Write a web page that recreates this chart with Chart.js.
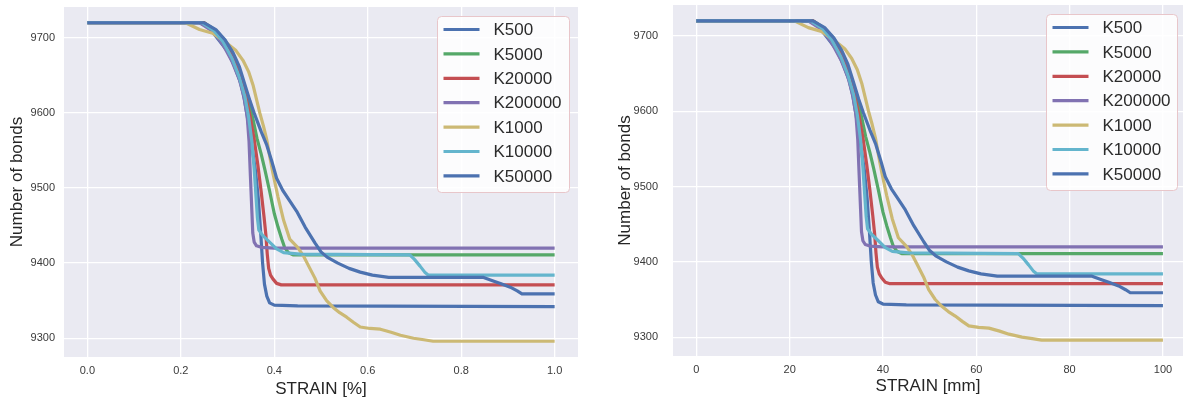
<!DOCTYPE html>
<html>
<head>
<meta charset="utf-8">
<script src="https://cdn.jsdelivr.net/npm/chart.js@4.4.1/dist/chart.umd.min.js"></script>
<style>
  html, body { margin: 0; padding: 0; background: #ffffff; }
  #wrap { position: relative; width: 1183px; height: 398px; overflow: hidden; }
  canvas { position: absolute; top: 0; }
  #leftChart { left: 0; }
  #rightChart { left: 590px; }
</style>
</head>
<body>
<div id="wrap">
  <canvas id="leftChart" width="590" height="398"></canvas>
  <canvas id="rightChart" width="593" height="398"></canvas>
</div>
<script>
// ---- data ----
const seriesLabels = ['K500', 'K5000', 'K20000', 'K200000', 'K1000', 'K10000', 'K50000'];

// strain as a fraction of the full run (the right plot shows the same runs in mm)
const k500Strain = [0, 0.24, 0.26, 0.28, 0.30, 0.315, 0.328, 0.336, 0.343, 0.352, 0.36, 0.366, 0.371, 0.375, 0.379, 0.384, 0.39, 0.40, 0.45, 1.0];
const k500Bonds = [9720, 9720, 9714, 9698, 9682, 9662, 9640, 9618, 9592, 9556, 9522, 9485, 9440, 9400, 9372, 9356, 9347, 9344, 9343, 9342];

const k5000Strain = [0, 0.25, 0.275, 0.295, 0.31, 0.325, 0.337, 0.347, 0.355, 0.363, 0.372, 0.38, 0.39, 0.40, 0.408, 0.416, 0.422, 0.43, 0.44, 1.0];
const k5000Bonds = [9720, 9720, 9710, 9696, 9680, 9658, 9632, 9610, 9590, 9566, 9545, 9524, 9496, 9466, 9448, 9432, 9421, 9414, 9411, 9411];

const k20000Strain = [0, 0.25, 0.275, 0.295, 0.312, 0.326, 0.338, 0.348, 0.357, 0.365, 0.372, 0.378, 0.382, 0.385, 0.388, 0.392, 0.397, 0.405, 0.415, 1.0];
const k20000Bonds = [9720, 9720, 9709, 9693, 9674, 9651, 9624, 9596, 9565, 9530, 9495, 9462, 9438, 9412, 9393, 9384, 9379, 9373, 9371, 9371];

const k200000Strain = [0, 0.24, 0.27, 0.29, 0.31, 0.325, 0.335, 0.342, 0.346, 0.349, 0.352, 0.354, 0.357, 0.362, 0.372, 0.4, 1.0];
const k200000Bonds = [9720, 9720, 9708, 9691, 9668, 9645, 9622, 9596, 9562, 9515, 9470, 9440, 9428, 9423, 9421, 9420, 9420];

const k1000Strain = [0, 0.21, 0.24, 0.268, 0.298, 0.318, 0.333, 0.345, 0.355, 0.362, 0.369, 0.377, 0.384, 0.39, 0.397, 0.408, 0.42, 0.433, 0.45, 0.462, 0.472, 0.487, 0.498, 0.512, 0.526, 0.54, 0.555, 0.57, 0.584, 0.605, 0.627, 0.65, 0.67, 0.698, 0.72, 0.74, 1.0];
const k1000Bonds = [9720, 9720, 9711, 9706, 9693, 9683, 9670, 9655, 9636, 9618, 9600, 9582, 9564, 9543, 9520, 9488, 9457, 9432, 9421, 9410, 9398, 9380, 9363, 9350, 9341, 9334, 9328, 9321, 9315, 9313, 9312, 9308, 9304, 9300, 9298, 9296, 9296];

const k10000Strain = [0, 0.245, 0.27, 0.29, 0.31, 0.325, 0.337, 0.345, 0.352, 0.357, 0.361, 0.364, 0.367, 0.375, 0.39, 0.405, 0.42, 0.455, 0.69, 0.70, 0.712, 0.722, 0.73, 1.0];
const k10000Bonds = [9720, 9720, 9710, 9695, 9672, 9648, 9622, 9595, 9562, 9525, 9488, 9460, 9444, 9437, 9428, 9419, 9414, 9412, 9411, 9405, 9396, 9388, 9384, 9384];

const k50000Strain = [0, 0.25, 0.275, 0.295, 0.312, 0.325, 0.337, 0.348, 0.358, 0.372, 0.384, 0.395, 0.405, 0.418, 0.432, 0.448, 0.466, 0.487, 0.50, 0.513, 0.536, 0.56, 0.584, 0.61, 0.645, 0.848, 0.87, 0.884, 0.905, 0.92, 0.93, 1.0];
const k50000Bonds = [9720, 9720, 9711, 9697, 9680, 9662, 9638, 9616, 9598, 9575, 9557, 9535, 9513, 9497, 9484, 9469, 9448, 9427, 9415, 9408, 9400, 9393, 9388, 9384, 9381, 9381, 9376, 9373, 9368, 9363, 9359, 9359];

const seriesStrain = [k500Strain, k5000Strain, k20000Strain, k200000Strain, k1000Strain, k10000Strain, k50000Strain];
const seriesBonds = [k500Bonds, k5000Bonds, k20000Bonds, k200000Bonds, k1000Bonds, k10000Bonds, k50000Bonds];

// tick values and labels
const xTickValues = [0, 0.2, 0.4, 0.6, 0.8, 1.0];
const xTickLabelsPct = ['0.0', '0.2', '0.4', '0.6', '0.8', '1.0'];
const xTickLabelsMm = ['0', '20', '40', '60', '80', '100'];
const yTickValues = [9300, 9400, 9500, 9600, 9700];
const yTickLabels = ['9300', '9400', '9500', '9600', '9700'];

// seaborn "deep" palette, cycling back to blue for the 7th line
const seriesColors = ['#4C72B0', '#55A868', '#C44E52', '#8172B2', '#CCB974', '#64B5CD', '#4C72B0'];

const FONT = '"Liberation Sans", Arial, sans-serif';

// grey panel behind the grid
const panelBackground = {
    id: 'panelBackground',
    beforeDraw(chart) {
        const { ctx, chartArea } = chart;
        ctx.save();
        ctx.fillStyle = '#EAEAF2';
        ctx.fillRect(chartArea.left, chartArea.top, chartArea.right - chartArea.left, chartArea.bottom - chartArea.top);
        ctx.restore();
    }
};

// matplotlib style legend box in the upper right corner of the panel
const insideLegend = {
    id: 'insideLegend',
    afterDatasetsDraw(chart, args, opts) {
        const { ctx, chartArea } = chart;
        const boxW = opts.width;
        const boxH = 176;
        const x0 = Math.round(chartArea.right - opts.marginRight - boxW) + 0.5;
        const y0 = Math.round(chartArea.top + 9) + 0.5;

        ctx.save();
        ctx.beginPath();
        ctx.roundRect(x0, y0, boxW, boxH, 4);
        ctx.fillStyle = 'rgba(255, 255, 255, 0.85)';
        ctx.fill();
        ctx.strokeStyle = '#E8C6CA';
        ctx.lineWidth = 1;
        ctx.stroke();

        ctx.font = '17px ' + FONT;
        ctx.textBaseline = 'middle';
        chart.data.datasets.forEach((ds, i) => {
            const y = y0 + 13 + i * 24.4;
            ctx.beginPath();
            ctx.moveTo(x0 + 6, y);
            ctx.lineTo(x0 + 42, y);
            ctx.strokeStyle = ds.borderColor;
            ctx.lineWidth = 3.2;
            ctx.stroke();
            ctx.fillStyle = '#2b2b2b';
            ctx.fillText(ds.label, x0 + 56, y + 1);
        });
        ctx.restore();
    }
};

function buildDatasets() {
    const n = seriesLabels.length;
    return seriesLabels.map((label, i) => ({
        label: label,
        data: seriesStrain[i].map((s, j) => ({ x: s, y: seriesBonds[i][j] })),
        borderColor: seriesColors[i],
        backgroundColor: seriesColors[i],
        borderWidth: 3.2,
        borderJoinStyle: 'round',
        pointRadius: 0,
        tension: 0,
        fill: false,
        // later series drawn on top, like matplotlib
        order: n - 1 - i
    }));
}

// drop the extra room chart.js keeps for half tick labels
function noScalePadding(scale) {
    scale.paddingTop = 0;
    scale.paddingBottom = 0;
    scale.paddingLeft = 0;
    scale.paddingRight = 0;
}

function makeChart(canvasId, cfg) {
    const ctx = document.getElementById(canvasId).getContext('2d');
    return new Chart(ctx, {
        type: 'line',
        data: { datasets: buildDatasets() },
        plugins: [panelBackground, insideLegend],
        options: {
            responsive: false,
            animation: false,
            layout: { padding: { left: 0, top: cfg.top, right: cfg.right, bottom: 0 } },
            plugins: {
                legend: { display: false },
                tooltip: { enabled: false },
                insideLegend: { marginRight: cfg.legendRight, width: cfg.legendWidth }
            },
            scales: {
                x: {
                    type: 'linear',
                    min: -0.05,
                    max: cfg.xMax,
                    afterBuildTicks: (scale) => { scale.ticks = xTickValues.map(v => ({ value: v })); },
                    afterFit: (scale) => { scale.height = cfg.xAxisHeight; noScalePadding(scale); },
                    border: { display: false },
                    grid: { color: '#FFFFFF', lineWidth: 1.3, drawTicks: false },
                    ticks: {
                        padding: 7,
                        color: '#3a3a3a',
                        font: { family: FONT, size: 11 },
                        maxRotation: 0,
                        callback: (value, index) => cfg.xLabels[index]
                    },
                    title: {
                        display: true,
                        text: cfg.xTitle,
                        color: '#262626',
                        font: { family: FONT, size: 17 },
                        padding: { top: 0, bottom: cfg.xTitlePad }
                    }
                },
                y: {
                    type: 'linear',
                    min: 9275,
                    max: 9741,
                    afterBuildTicks: (scale) => { scale.ticks = yTickValues.map(v => ({ value: v })); },
                    afterFit: (scale) => { scale.width = cfg.yAxisWidth; noScalePadding(scale); },
                    border: { display: false },
                    grid: { color: '#FFFFFF', lineWidth: 1.3, drawTicks: false },
                    ticks: {
                        padding: cfg.yTickPad,
                        color: '#3a3a3a',
                        font: { family: FONT, size: 11 },
                        callback: (value, index) => yTickLabels[index]
                    },
                    title: {
                        display: true,
                        text: 'Number of bonds',
                        color: '#262626',
                        font: { family: FONT, size: 17 },
                        padding: { top: cfg.yTitlePad, bottom: 0 }
                    }
                }
            }
        }
    });
}

makeChart('leftChart', {
    top: 7, right: 12, xMax: 1.05,
    xAxisHeight: 41, yAxisWidth: 64,
    yTickPad: 9, yTitlePad: 7, xTitlePad: -2,
    xLabels: xTickLabelsPct, xTitle: 'STRAIN [%]',
    legendRight: 9, legendWidth: 132
});

makeChart('rightChart', {
    top: 5, right: 0, xMax: 1.043,
    xAxisHeight: 42, yAxisWidth: 83,
    yTickPad: 15, yTitlePad: 25, xTitlePad: 1,
    xLabels: xTickLabelsMm, xTitle: 'STRAIN [mm]',
    legendRight: 6, legendWidth: 131
});
</script>
</body>
</html>
